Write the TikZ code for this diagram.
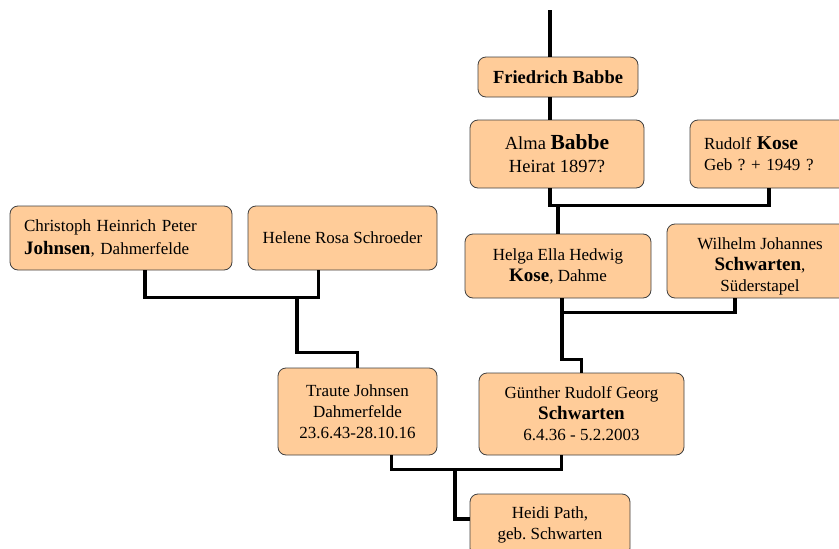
\documentclass[tikz,border=0pt]{standalone}
\usepackage{fontspec}
\setmainfont{Liberation Serif}
\frenchspacing
\definecolor{peach}{HTML}{FFCC99}
\newcommand{\famname}[1]{{\fontsize{19}{21}\selectfont\bfseries #1}}

\begin{document}
\begin{tikzpicture}[x=1pt, y=-1pt,
  person/.style={draw=black!75, line width=0.8pt, fill=peach, rounded corners=8pt,
    align=center, inner sep=0pt, font=\fontsize{17}{21}\selectfont},
  link/.style={line width=3.5pt}]
\useasboundingbox (0,0) rectangle (839,549);

% Babbe / Kose line
\node[person, minimum width=160pt, minimum height=40pt] (friedrich) at (558,77)
  {\fontsize{18.5}{21}\selectfont\bfseries Friedrich Babbe};
\node[person, minimum width=174pt, minimum height=68pt, font=\fontsize{18.5}{23}\selectfont] (alma) at (557,154)
  {Alma {\fontsize{21.5}{23}\selectfont\bfseries Babbe}\\Heirat 1897?};
\node[person, minimum width=158pt, minimum height=68pt, text width=130pt, align=left] (rudolf) at (769,154)
  {Rudolf {\fontsize{19.5}{20}\selectfont\bfseries Kose}\\Geb ? + 1949 ?};
\node[person, minimum width=186pt, minimum height=64pt] (helga) at (558,266)
  {Helga Ella Hedwig\\\famname{Kose}, Dahme};
\node[person, minimum width=186pt, minimum height=74pt] (wilhelm) at (760,261)
  {\rule{0pt}{22.5pt}Wilhelm Johannes\\\famname{Schwarten},\\Süderstapel};

% Johnsen line
\node[person, minimum width=222pt, minimum height=64pt, text width=194pt, align=left,
  font=\fontsize{17}{23}\selectfont] (christoph) at (121,238)
  {Christoph Heinrich Peter\\{\fontsize{19}{23}\selectfont\bfseries Johnsen}, Dahmerfelde};
\node[person, minimum width=189pt, minimum height=64pt] (helene) at (342.5,238)
  {Helene Rosa Schroeder};

% parents and child
\node[person, minimum width=159pt, minimum height=87pt] (traute) at (357.5,411.5)
  {Traute Johnsen\\Dahmerfelde\\23.6.43-28.10.16};
\node[person, minimum width=205pt, minimum height=82pt] (guenther) at (581.5,414)
  {Günther Rudolf Georg\\\famname{Schwarten}\\6.4.36 - 5.2.2003};
\node[person, minimum width=160pt, minimum height=62pt] (heidi) at (550,525)
  {Heidi Path,\\geb. Schwarten};

\coordinate (top) at (550,10);
\coordinate (johnsenbar) at (297,297);
\coordinate (schwartenbar) at (455,469);

\draw[link] (top) -- (top |- friedrich.north);
\draw[link] (top |- friedrich.south) -- (top |- alma.north);
\draw[link] (top |- alma.south) -- ++(0,17) -| (rudolf.south);
\draw[link] (helga.north) -- ++(0,-29);
\draw[link] ([xshift=4pt]helga.south) -- ++(0,14) -| ([xshift=-25pt]wilhelm.south);
\draw[link] (guenther.north) -- ++(0,-13) -| ([xshift=4pt]helga.south);
\draw[link] ([xshift=24pt]christoph.south) -- ++(0,27) -| ([xshift=-24pt]helene.south);
\draw[link] (traute.north) -- ++(0,-15) -| (johnsenbar);
\draw[link] ([xshift=34pt]traute.south) -- ++(0,14) -| ([xshift=-20pt]guenther.south);
\draw[link] ([yshift=6pt]heidi.west) -| (schwartenbar);
\end{tikzpicture}
\end{document}
